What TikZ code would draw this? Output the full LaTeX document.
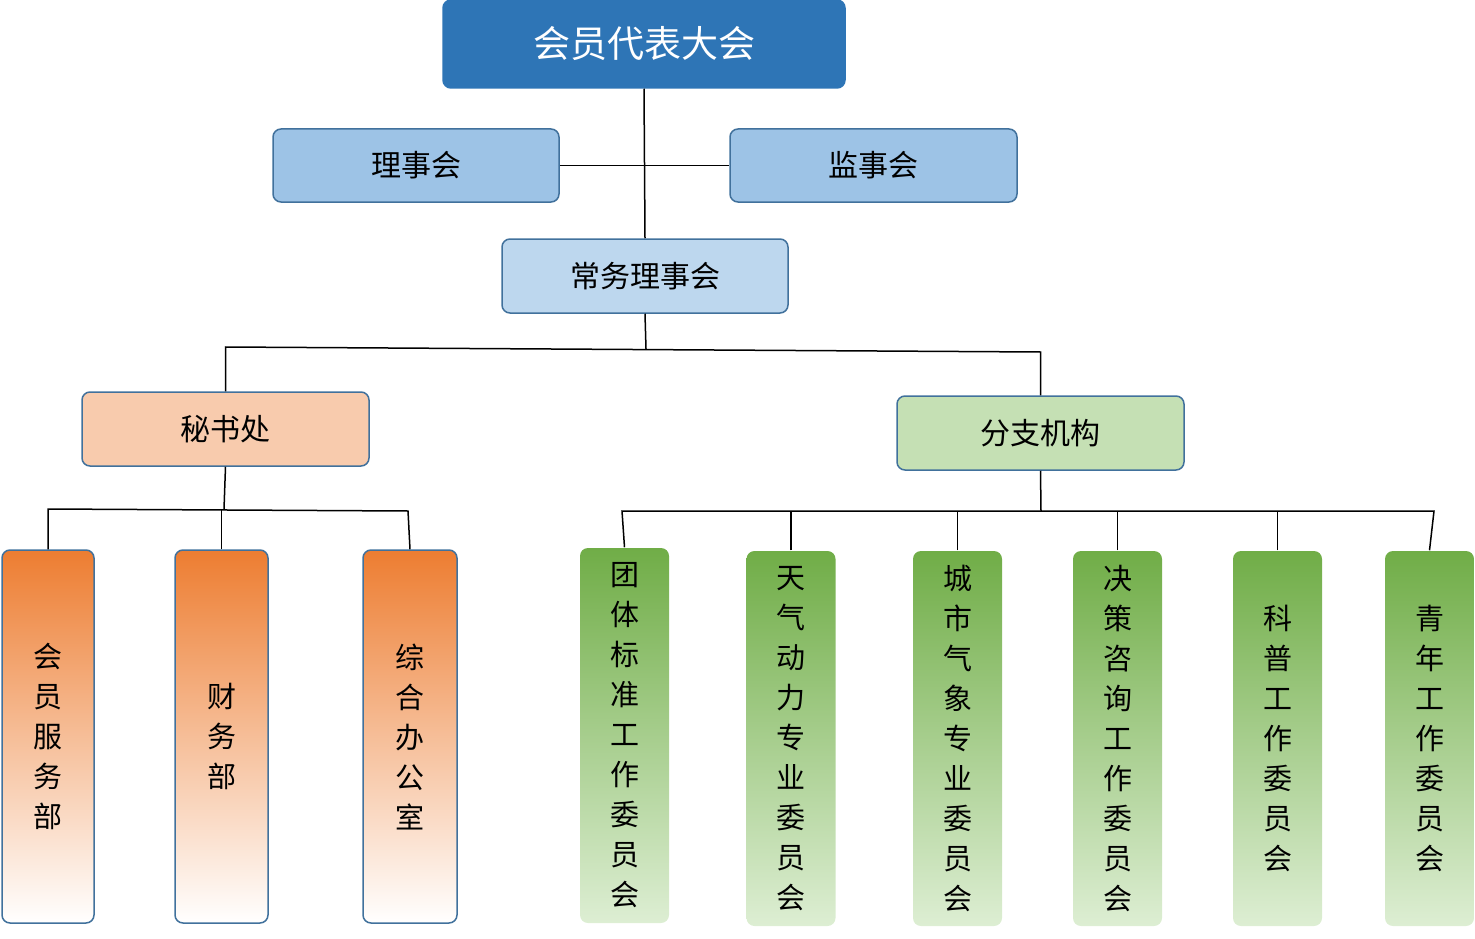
\documentclass[tikz,border=0pt]{standalone}
\usepackage{fontspec}
\setmainfont{Noto Sans CJK SC}
\begin{document}
\begin{tikzpicture}[x=1pt,y=-1pt,
 box/.style={draw=#1,line width=1.5pt,rounded corners=8pt,inner sep=0pt,align=center},
 hbox/.style={box=b1, font=\fontsize{30}{36}\selectfont},
 vbox/.style={box=b1, font=\fontsize{29}{40}\selectfont},
 ln/.style={line width=1.5pt,black}]
\definecolor{b1}{HTML}{41719C}
\definecolor{top}{HTML}{2E75B6}
\definecolor{lb}{HTML}{9DC3E6}
\definecolor{llb}{HTML}{BDD7EE}
\definecolor{pk}{HTML}{F8CBAD}
\definecolor{lg}{HTML}{C5E0B4}
\definecolor{og}{HTML}{ED7D31}
\definecolor{gr}{HTML}{70AD47}
\definecolor{gw}{HTML}{DDEED3}
\useasboundingbox (0,0) rectangle (1475,939);
\node[box=top,fill=top,text=white,font=\fontsize{37}{44}\selectfont,minimum width=402pt,minimum height=88pt] (A) at (644,44) {会员代表大会};
\node[hbox,fill=lb,minimum width=286pt,minimum height=73pt] (L) at (416,165.5) {理事会};
\node[hbox,fill=lb,minimum width=287pt,minimum height=73pt] (J) at (873.5,165.5) {监事会};
\node[hbox,fill=llb,minimum width=286pt,minimum height=74pt] (C) at (645,276) {常务理事会};
\node[hbox,fill=pk,minimum width=287pt,minimum height=74pt] (M) at (225.5,429) {秘书处};
\node[hbox,fill=lg,minimum width=287pt,minimum height=74pt] (F) at (1040.5,433) {分支机构};
% orange
\foreach \n/\x/\w/\t in {o1/48/92/{会\\员\\服\\务\\部}, o2/221.5/93/{财\\务\\部}, o3/410/94/{综\\合\\办\\公\\室}}
 \node[vbox,top color=og,bottom color=white,minimum width=\w pt,minimum height=373pt] (\n) at (\x,736.5) {\t};
% green
\foreach \n/\x/\y/\h/\t in {g1/624.5/735.5/375/{团\\体\\标\\准\\工\\作\\委\\员\\会},
 g2/791/738.5/375/{天\\气\\动\\力\\专\\业\\委\\员\\会},
 g3/957.5/738.5/375/{城\\市\\气\\象\\专\\业\\委\\员\\会},
 g4/1117.5/738.5/375/{决\\策\\咨\\询\\工\\作\\委\\员\\会},
 g5/1277.5/738.5/375/{科\\普\\工\\作\\委\\员\\会},
 g6/1429.5/738.5/375/{青\\年\\工\\作\\委\\员\\会}}
 \node[vbox,draw=none,rounded corners=8pt,top color=gr,bottom color=gw,minimum width=89pt,minimum height=\h pt] (\n) at (\x,\y) {\t};
% connectors
\coordinate (c1) at (644,165);
\draw[ln] (A.south) -- (C.north);
\draw[ln] (L.east) -- (J.west);
\coordinate (h1) at (646,349);
\draw[ln] (C.south) -- (h1);
\draw[ln] (M.north) -- (225.5,347) -- (1040.5,352) -- (F.north);
\coordinate (h2) at (224,509);
\draw[ln] (M.south) -- (h2);
\draw[ln] (o1.north) -- (48,509) -- (408,511) -- (o3.north);
\draw[ln] (o2.north) -- (221.5,509.5);
\coordinate (h3) at (1041,511);
\draw[ln] (F.south) -- (h3);
\draw[ln] (g1.north) -- (622,511) -- (1434,511) -- (g6.north);
\foreach \n in {g2,g3,g4,g5} \draw[ln] (\n.north) -- (\n.north |- h3);
\end{tikzpicture}
\end{document}
